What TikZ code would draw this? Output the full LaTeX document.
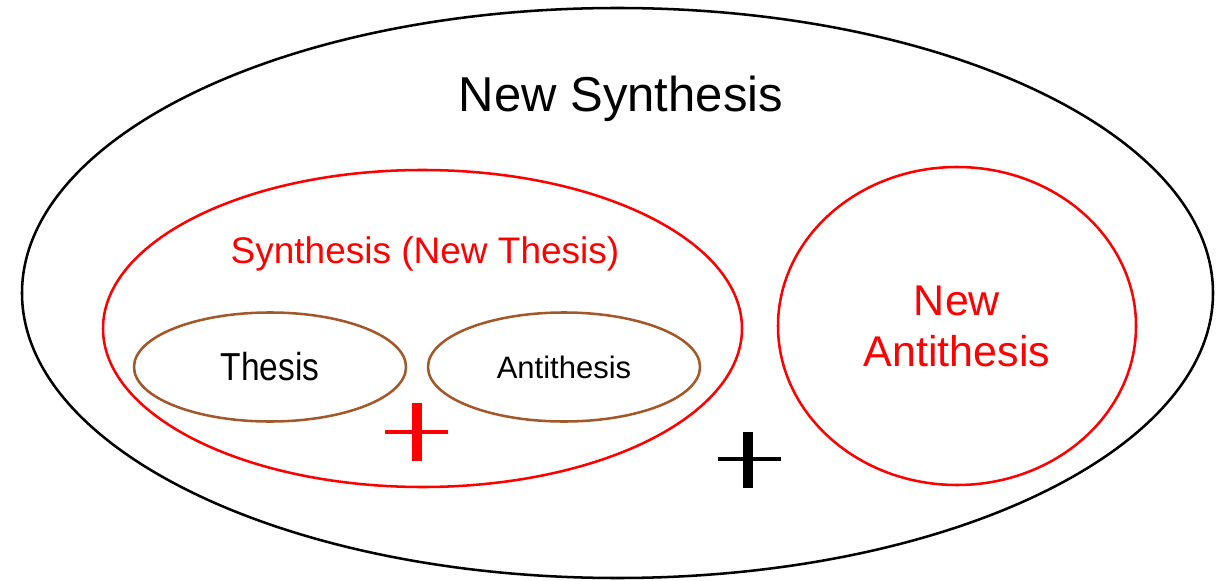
\documentclass[tikz,border=0pt]{standalone}
\usepackage{fontspec}
\usepackage{graphicx}
\setmainfont{Liberation Sans}
\usetikzlibrary{shapes.geometric}
\definecolor{thbrown}{RGB}{164,88,42}
\definecolor{thred}{RGB}{255,0,0}
\begin{document}
\begin{tikzpicture}[x=0.75pt,y=-0.75pt,
  ring/.style 2 args={draw, ellipse, inner sep=0pt, outer sep=0pt, line width=1.9pt,
     minimum width=#1*1.5pt, minimum height=#2*1.5pt},
  lbl/.style={anchor=base, inner sep=0pt},
  vbar/.style={line width=7.8pt},
  hbar/.style={line width=3.2pt}]
\useasboundingbox (0,0) rectangle (1225,581);
% outer ellipse
\node[ring={595.5}{285}, black] (outer) at (617.5,293) {};
\node[lbl, font=\fontsize{36.75}{44}\selectfont] (newsyn) at (621,112) {New Synthesis};
% synthesis ellipse
\node[ring={319.5}{158.5}, thred] (syn) at (422.5,328.5) {};
\node[lbl, text=thred, font=\fontsize{27.75}{33}\selectfont] (synlbl) at (425,263) {Synthesis (New Thesis)};
% thesis and antithesis
\node[ring={136}{54.5}, thbrown, text=black, font=\fontsize{29.25}{34}\selectfont] (thesis) at (270,367) {\scalebox{0.86}[1]{Thesis}};
\node[ring={136}{54.5}, thbrown, text=black, font=\fontsize{23.25}{28}\selectfont] (anti) at (564,367) {Antithesis};
% new antithesis
\node[ring={179}{159}, thred, align=center, font=\fontsize{32.25}{38.25}\selectfont] (newanti) at (957,326) {New\\Antithesis};
% plus signs
\coordinate (p1) at (417,432);
\draw[thred, vbar] ([yshift=21.75pt]p1) -- ([yshift=-22pt]p1);
\draw[thred, hbar] ([xshift=-24pt]p1) -- ([xshift=23.25pt]p1);
\coordinate (p2) at (748,459);
\draw[black, vbar] ([yshift=20.25pt]p2) -- ([yshift=-21.75pt]p2);
\draw[black, line width=3.6pt] ([xshift=-22.5pt]p2) -- ([xshift=24.75pt]p2);
\end{tikzpicture}
\end{document}
